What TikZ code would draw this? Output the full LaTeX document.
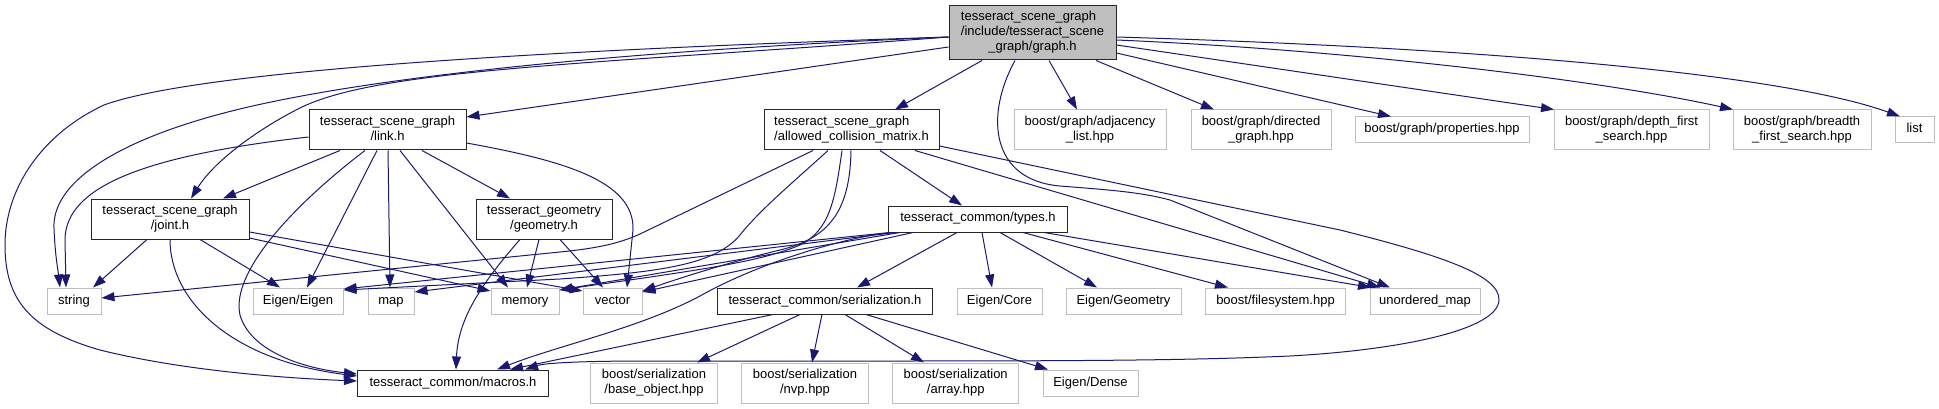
\documentclass[tikz,border=0pt]{standalone}
\usepackage{fontspec}
\setmainfont{Liberation Sans}
\usetikzlibrary{arrows.meta}
\definecolor{edgec}{HTML}{191970}
\definecolor{grey75}{HTML}{BFBFBF}
\newcommand\ltwo[2]{\begin{tabular}{@{}l@{}}#1\\\multicolumn{1}{@{}c@{}}{#2}\end{tabular}}
\newcommand\lone[1]{\begin{tabular}{@{}c@{}}#1\end{tabular}}
\tikzset{
  box/.style={rectangle, inner sep=0pt, line width=1pt, fill=white,
    font=\fontsize{13}{15}\selectfont},
  inc/.style={box, draw=black!85},
  ext/.style={box, draw=grey75},
  mainbox/.style={box, draw=black!85, fill=grey75},
  edge/.style={draw=edgec, line width=1pt, -{Triangle[length=13pt,width=9pt]}},
}
\begin{document}
\begin{tikzpicture}[x=1pt,y=-1pt]
\useasboundingbox (0,0) rectangle (1939,409);
% nodes
\node[mainbox, minimum width=167, minimum height=54] (main) at (1032.5,33)
  {\begin{tabular}{@{}l@{}}tesseract\_scene\_graph\\/include/tesseract\_scene\\\multicolumn{1}{@{}c@{}}{\_graph/graph.h}\end{tabular}};
\node[inc, minimum width=175, minimum height=40] (acm) at (851.5,130) {\ltwo{tesseract\_scene\_graph}{/allowed\_collision\_matrix.h}};
\node[ext, minimum width=152, minimum height=40] (adj) at (1090,130) {\ltwo{boost/graph/adjacency}{\_list.hpp}};
\node[ext, minimum width=140, minimum height=40] (dir) at (1261,130) {\ltwo{boost/graph/directed}{\_graph.hpp}};
\node[ext, minimum width=174, minimum height=26] (prop) at (1442,130) {\lone{boost/graph/properties.hpp}};
\node[ext, minimum width=155, minimum height=40] (dfs) at (1631.5,130) {\ltwo{boost/graph/depth\_first}{\_search.hpp}};
\node[ext, minimum width=138, minimum height=40] (bfs) at (1802,130) {\ltwo{boost/graph/breadth}{\_first\_search.hpp}};
\node[ext, minimum width=39, minimum height=26] (list) at (1914.5,130) {\lone{list}};
\node[inc, minimum width=157, minimum height=40] (link) at (387.5,130) {\ltwo{tesseract\_scene\_graph}{/link.h}};
\node[inc, minimum width=158, minimum height=40] (joint) at (170,219) {\ltwo{tesseract\_scene\_graph}{/joint.h}};
\node[inc, minimum width=136, minimum height=40] (geom) at (544,219) {\ltwo{tesseract\_geometry}{/geometry.h}};
\node[inc, minimum width=179, minimum height=26] (types) at (978,219) {\lone{tesseract\_common/types.h}};
\node[ext, minimum width=54, minimum height=26] (string) at (74,301) {\lone{string}};
\node[ext, minimum width=90, minimum height=26] (eigen) at (298,301) {\lone{Eigen/Eigen}};
\node[ext, minimum width=46, minimum height=26] (map) at (391,301) {\lone{map}};
\node[ext, minimum width=68, minimum height=26] (memory) at (525,301) {\lone{memory}};
\node[ext, minimum width=59, minimum height=26] (vector) at (612.5,301) {\lone{vector}};
\node[inc, minimum width=215, minimum height=26] (ser) at (825,301) {\lone{tesseract\_common/serialization.h}};
\node[ext, minimum width=85, minimum height=26] (core) at (999.5,301) {\lone{Eigen/Core}};
\node[ext, minimum width=115, minimum height=26] (egeom) at (1123.5,301) {\lone{Eigen/Geometry}};
\node[ext, minimum width=140, minimum height=26] (fs) at (1275.5,301) {\lone{boost/filesystem.hpp}};
\node[ext, minimum width=110, minimum height=26] (umap) at (1425,301) {\lone{unordered\_map}};
\node[inc, minimum width=191, minimum height=26] (macros) at (453,383) {\lone{tesseract\_common/macros.h}};
\node[ext, minimum width=127, minimum height=40] (base) at (654,383) {\ltwo{boost/serialization}{/base\_object.hpp}};
\node[ext, minimum width=127, minimum height=40] (nvp) at (805,383) {\ltwo{boost/serialization}{/nvp.hpp}};
\node[ext, minimum width=126, minimum height=40] (array) at (955.7,383) {\ltwo{boost/serialization}{/array.hpp}};
\node[ext, minimum width=95, minimum height=26] (dense) at (1090.5,383) {\lone{Eigen/Dense}};
% graph.h edges
\draw[edge] (main.west |- 0,47) -- (link.east |- 0,117);
\draw[edge] (main.south -| 982,0) -- (acm.north -| 895,0);
\draw[edge] (main.south -| 1049,0) -- (adj.north -| 1077,0);
\draw[edge] (main.south -| 1096,0) -- (dir.north -| 1214,0);
\draw[edge] (main.east |- 0,53) -- (prop.north -| 1391,0);
\draw[edge] (main.east |- 0,45) -- (dfs.north -| 1554,0);
\draw[edge] (main.east |- 0,40) .. controls (1350,50) and (1600,80) .. (bfs.north -| 1733,0);
\draw[edge] (main.east |- 0,37) .. controls (1550,50) and (1800,80) .. (list.north -| 1900,0);
\draw[edge] (main.south -| 1015,0) .. controls (985,115) and (990,180) .. (1060,186)
  .. controls (1110,190) and (1140,192) .. (1170,200) -- (umap.north -| 1390,0);
\draw[edge] (main.west |- 0,37) .. controls (550,50) and (200,70) .. (104,105)
  .. controls (40,135) and (5,190) .. (5,245) .. controls (5,300) and (30,330) .. (100,350)
  .. controls (180,370) and (280,378) .. (macros.west |- 0,381);
\draw[edge] (main.west |- 0,37) .. controls (550,54) and (330,85) .. (224,113)
  .. controls (110,143) and (52,185) .. (54,228) .. controls (55,255) and (58,270) .. (string.north -| 60,0);
\draw[edge] (main.west |- 0,37) .. controls (600,64) and (380,68) .. (300,108)
  .. controls (260,128) and (215,160) .. (joint.north -| 191,0);
% link.h edges
\draw[edge] (link.west |- 0,137) .. controls (150,155) and (65,185) .. (65,240) -- (string.north -| 66,0);
\draw[edge] (link.south -| 340,0) -- (joint.north -| 223,0);
\draw[edge] (link.south -| 365,0) .. controls (300,200) and (230,270) .. (240,315)
  .. controls (250,350) and (300,368) .. (macros.west |- 0,374);
\draw[edge] (link.south -| 377,0) -- (eigen.north -| 307,0);
\draw[edge] (link.south -| 388,0) -- (map.north -| 390,0);
\draw[edge] (link.south -| 400,0) -- (memory.north -| 508,0);
\draw[edge] (link.south -| 422,0) -- (geom.north -| 510,0);
\draw[edge] (link.east |- 0,143) .. controls (560,160) and (635,180) .. (633,230) -- (vector.north -| 627,0);
% joint.h edges
\draw[edge] (joint.south -| 147,0) -- (string.north -| 93,0);
\draw[edge] (joint.south -| 170,0) .. controls (170,300) and (230,360) .. (macros.west |- 0,376);
\draw[edge] (joint.south -| 200,0) -- (eigen.north -| 280,0);
\draw[edge] (joint.east |- 0,238) -- (memory.west |- 0,291);
\draw[edge] (joint.east |- 0,232) -- (vector.west |- 0,291);
% geometry.h edges
\draw[edge] (geom.south -| 520,0) .. controls (480,285) and (458,320) .. (macros.north -| 456,0);
\draw[edge] (geom.south -| 539,0) -- (memory.north -| 527,0);
\draw[edge] (geom.south -| 560,0) -- (vector.north -| 603,0);
% allowed_collision_matrix.h edges
\draw[edge] (acm.south -| 813,0) -- (640,234) .. controls (620,243) and (600,248) .. (560,252) -- (string.east |- 0,298);
\draw[edge] (acm.south -| 828,0) .. controls (790,185) and (760,210) .. (740,235)
  .. controls (715,265) and (660,272) .. (560,279) -- (eigen.east |- 0,290);
\draw[edge] (acm.south -| 842,0) .. controls (835,200) and (830,230) .. (800,245)
  .. controls (760,262) and (700,270) .. (memory.east |- 0,290);
\draw[edge] (acm.south -| 851,0) .. controls (850,210) and (830,238) .. (780,250)
  .. controls (730,262) and (680,278) .. (vector.east |- 0,291);
\draw[edge] (acm.south -| 880,0) -- (types.north -| 962,0);
\draw[edge] (acm.south -| 915,0) -- (umap.north -| 1380,0);
\draw[edge] (acm.east |- 0,146) -- (1340,230) .. controls (1440,255) and (1500,275) .. (1499,300)
  .. controls (1498,330) and (1400,350) .. (1290,356) .. controls (1200,360) and (1100,361) .. (900,361)
  -- (650,361) .. controls (580,361) and (545,363) .. (macros.north -| 525,0);
% types.h edges
\draw[edge] (types.south -| 890,0) -- (eigen.east |- 0,289);
\draw[edge] (types.south -| 895,0) -- (map.east |- 0,292);
\draw[edge] (types.south -| 900,0) -- (memory.east |- 0,290);
\draw[edge] (types.south -| 913,0) -- (vector.east |- 0,292);
\draw[edge] (types.south -| 892,0) .. controls (850,236) and (760,262) .. (700,296)
  .. controls (640,328) and (560,345) .. (macros.north -| 497,0);
\draw[edge] (types.south -| 957,0) -- (ser.north -| 857,0);
\draw[edge] (types.south -| 982,0) -- (core.north -| 992,0);
\draw[edge] (types.south -| 1000,0) -- (egeom.north -| 1097,0);
\draw[edge] (types.south -| 1023,0) -- (fs.north -| 1228,0);
\draw[edge] (types.south -| 1044,0) -- (umap.north -| 1371,0);
% serialization.h edges
\draw[edge] (ser.south -| 773,0) -- (macros.north -| 510,0);
\draw[edge] (ser.south -| 800,0) -- (base.north -| 697,0);
\draw[edge] (ser.south -| 822,0) -- (nvp.north -| 812,0);
\draw[edge] (ser.south -| 845,0) -- (array.north -| 924,0);
\draw[edge] (ser.south -| 866,0) -- (dense.north -| 1048,0);
\end{tikzpicture}
\end{document}
